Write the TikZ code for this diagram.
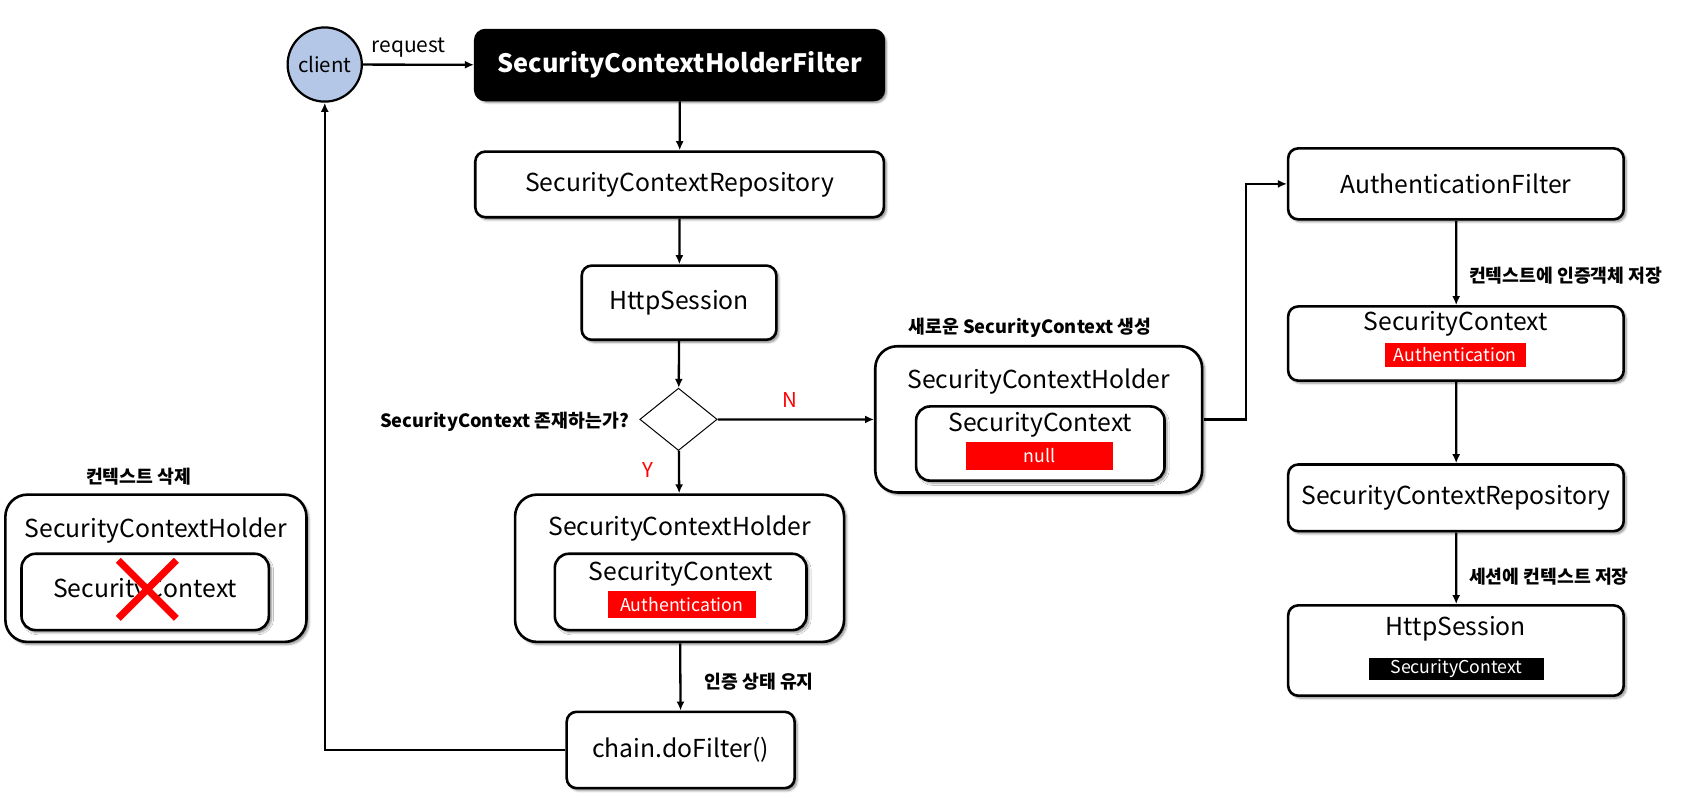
\documentclass[tikz,border=0pt]{standalone}
\usepackage{fontspec}
\setmainfont{Noto Sans CJK KR}
\usetikzlibrary{positioning}
\usetikzlibrary{shapes.geometric, arrows.meta, shadows.blur}
\definecolor{clientblue}{RGB}{180,199,231}
\definecolor{markred}{RGB}{255,0,0}
\newcommand{\fsz}[1]{\fontsize{#1}{#1}\selectfont}
\tikzset{
  box/.style={draw, line width=2.6pt, rounded corners=10pt, fill=white, inner sep=0pt,
    blur shadow={shadow xshift=2.5pt, shadow yshift=-2.5pt, shadow blur steps=6, shadow opacity=45}},
  boxtext/.style={inner sep=0pt, font=\fsz{23}},
  tag/.style={fill=markred, text=white, inner sep=0pt, font=\fsz{16.5}},
  flowlabel/.style={inner sep=0pt, font=\bfseries\fsz{17}},
  yn/.style={inner sep=0pt, text=markred, font=\fsz{19}},
  flow/.style={line width=2.3pt, -{Latex[length=9pt,width=8pt]}},
}
\begin{document}
\begin{tikzpicture}[x=1pt,y=-1pt,scale=1.0753,every node/.append style={transform shape}]
  \useasboundingbox (0,0) rectangle (1568,742);

  %Shape: client
  \node (client) [circle, draw, line width=2.2pt, fill=clientblue, minimum size=69pt, inner sep=0pt, font=\fsz{19}] at (302,60) {client};

  %Shape: left column
  \node (filter) [box, fill=black, text=white, minimum width=380pt, minimum height=65pt, font=\bfseries\fsz{23.5}] at (632,60.5) {SecurityContextHolderFilter};
  \node (repo) [box, boxtext, minimum width=380pt, minimum height=61pt] at (632,171.5) {SecurityContextRepository};
  \node (session) [box, boxtext, minimum width=181pt, minimum height=69pt] at (631.5,281.5) {HttpSession};
  \node (decision) [diamond, draw, line width=1pt, minimum width=72pt, minimum height=58pt, inner sep=0pt] at (631,390) {};

  %Shape: holder (Y)
  \node (holderY) [box, rounded corners=22pt, minimum width=306pt, minimum height=137pt] at (632,528.5) {};
  \node (holderYText) [boxtext] at (632,492) {SecurityContextHolder};
  \node (ctxY) [box, rounded corners=14pt, minimum width=234pt, minimum height=71pt] at (633,550.5) {};
  \node (ctxYText) [boxtext] at (633,534) {SecurityContext};
  \node (authY) [tag, minimum width=138pt, minimum height=25pt] at (634,562.5) {Authentication};
  \node (chain) [box, boxtext, minimum width=212pt, minimum height=71pt] at (633,697.5) {chain.doFilter()};

  %Shape: holder (N)
  \node (holderN) [box, rounded corners=22pt, minimum width=304pt, minimum height=136pt] at (966,390) {};
  \node (holderNText) [boxtext] at (966,355) {SecurityContextHolder};
  \node (ctxN) [box, rounded corners=14pt, minimum width=231pt, minimum height=69pt] at (967.5,412.5) {};
  \node (ctxNText) [boxtext] at (967.5,395) {SecurityContext};
  \node (nullN) [tag, minimum width=137pt, minimum height=26pt] at (966.5,424) {null};

  %Shape: right column
  \node (authFilter) [box, boxtext, minimum width=312pt, minimum height=66pt] at (1354,171) {AuthenticationFilter};
  \node (ctxR) [box, minimum width=312pt, minimum height=69pt] at (1354,319.5) {};
  \node (ctxRText) [boxtext] at (1354,301) {SecurityContext};
  \node (authR) [tag, minimum width=131pt, minimum height=22pt] at (1353.5,330) {Authentication};
  \node (repoR) [box, boxtext, minimum width=312pt, minimum height=62pt] at (1354,463) {SecurityContextRepository};
  \node (sessionR) [box, minimum width=312pt, minimum height=84pt] at (1354,605) {};
  \node (sessionRText) [boxtext] at (1354,585) {HttpSession};
  \node (ctxTag) [tag, fill=black, minimum width=163pt, minimum height=20pt] at (1354.5,622) {SecurityContext};

  %Shape: holder (deleted)
  \node (holderD) [box, rounded corners=22pt, minimum width=280pt, minimum height=137pt] at (145,528.5) {};
  \node (holderDText) [boxtext] at (145,493) {SecurityContextHolder};
  \node (ctxD) [box, rounded corners=14pt, minimum width=230pt, minimum height=71pt] at (135,550.5) {};
  \node (ctxDText) [boxtext] at (135,549) {SecurityContext};
  \coordinate (cross) at (137,548);
  \draw [markred, line width=7pt] ([shift={(-27,-27)}]cross) -- ([shift={(27,27)}]cross)
        ([shift={(27,-27)}]cross) -- ([shift={(-27,27)}]cross);

  % Text Node
  \node (request) [inner sep=0pt, font=\fsz{19.5}] at (380,44) {request};
  % Text Node
  \node (askLabel) [flowlabel, anchor=east] at (585,392) {SecurityContext 존재하는가?};
  % Text Node
  \node (noLabel) [yn] at (735,372) {N};
  % Text Node
  \node (yesLabel) [yn] at (603,437) {Y};
  % Text Node
  \node (newLabel) [flowlabel] at (958,305) {새로운 SecurityContext 생성};
  % Text Node
  \node (storeLabel) [flowlabel, anchor=west] at (1366,256) {컨텍스트에 인증객체 저장};
  % Text Node
  \node (saveLabel) [flowlabel, anchor=west] at (1366,536) {세션에 컨텍스트 저장};
  % Text Node
  \node (keepLabel) [flowlabel, anchor=west] at (655,634) {인증 상태 유지};
  % Text Node
  \node (delLabel) [flowlabel] at (129,443) {컨텍스트 삭제};

  % Connectors
  \draw [flow] (client) -- (filter);
  \draw [flow] (filter) -- (repo);
  \draw [flow] (repo) -- (session);
  \draw [flow] (session) -- (decision);
  \draw [flow] (decision) -- (holderN);
  \draw [flow] (decision) -- (holderY);
  \draw [flow] (holderY) -- (chain);
  \draw [flow] (chain.west) -| (client.south);
  \draw [flow] (holderN.east) -- ++(39,0) |- (authFilter.west);
  \draw [flow] (authFilter) -- (ctxR);
  \draw [flow] (ctxR) -- (repoR);
  \draw [flow] (repoR) -- (sessionR);
\end{tikzpicture}
\end{document}
